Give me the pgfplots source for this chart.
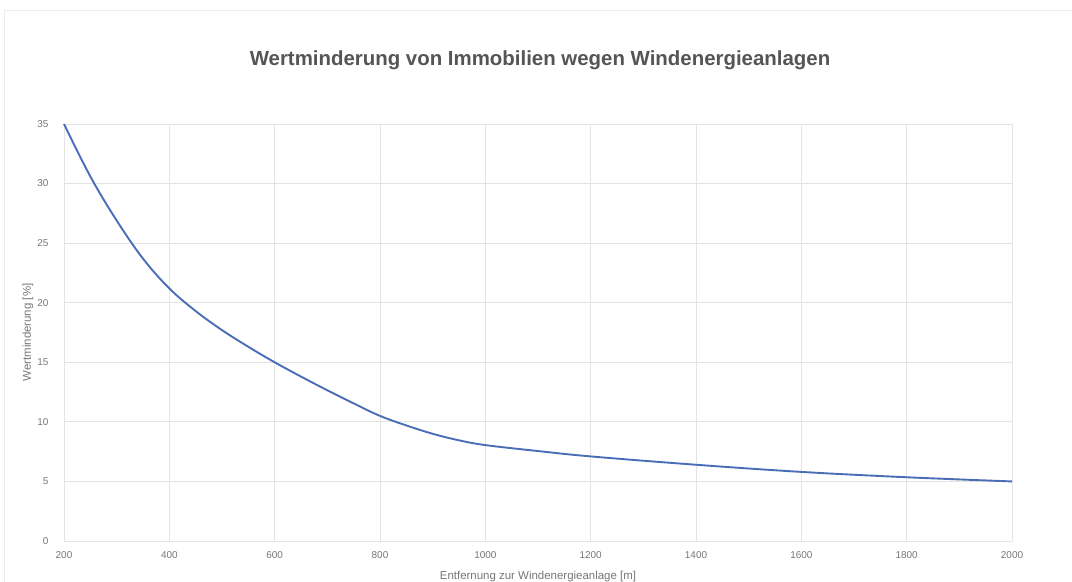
\documentclass[border=0pt]{standalone}
\usepackage{fontspec}
\setmainfont{Liberation Sans}
\usepackage{pgfplots}
\pgfplotsset{compat=1.18}
\definecolor{linecol}{HTML}{4A6DB8}
\definecolor{gridcol}{HTML}{E4E4E4}
\definecolor{tickcol}{HTML}{777777}
\definecolor{titlecol}{HTML}{555555}
\begin{document}
\begin{tikzpicture}
  \useasboundingbox[fill=white] (0bp,0bp) rectangle (1072bp,582bp);
  \draw[gridcol!70] (4bp,0bp) -- (4bp,572bp) -- (1072bp,572bp);
  \node[font=\bfseries\fontsize{20.5}{23}\selectfont, text=titlecol] at (540bp,522bp) {Wertminderung von Immobilien wegen Windenergieanlagen};
  \begin{axis}[
    at={(64bp,41bp)}, anchor=south west,
    width=948bp, height=417bp, scale only axis,
    xmin=200, xmax=2000, ymin=0, ymax=35,
    xtick={200,400,...,2000}, ytick={0,5,...,35},
    grid=major, grid style={gridcol, line width=0.8pt},
    axis line style={draw=none},
    tick style={draw=none},
    ticklabel style={font=\fontsize{10}{11}\selectfont, text=tickcol},
    xticklabel style={yshift=-7bp},
    yticklabel style={xshift=-12bp},
    /pgf/number format/assume math mode=true,
    /pgf/number format/set thousands separator={},
    xlabel={Entfernung zur Windenergieanlage [m]},
    ylabel={Wertminderung [\%]},
    label style={font=\fontsize{11.5}{13}\selectfont, text=tickcol},
    xlabel style={at={(axis description cs:0.5,-0.086)}, anchor=center},
    ylabel style={at={(axis description cs:-0.038,0.5)}, anchor=center},
    clip=false,
  ]
    \addplot[linecol, line width=1.9pt, smooth, tension=0.6] coordinates {
      (200,35) (250,30.6) (300,26.9) (350,23.7) (400,21.2) (450,19.3) (500,17.7)
      (550,16.3) (600,15.0) (650,13.8) (700,12.65) (750,11.55) (800,10.5)
      (850,9.7) (900,9.0) (950,8.45) (1000,8.05) (1100,7.55)
      (1200,7.1) (1400,6.4) (1600,5.8) (1800,5.35) (2000,5.0)
    };
  \end{axis}
\end{tikzpicture}
\end{document}
